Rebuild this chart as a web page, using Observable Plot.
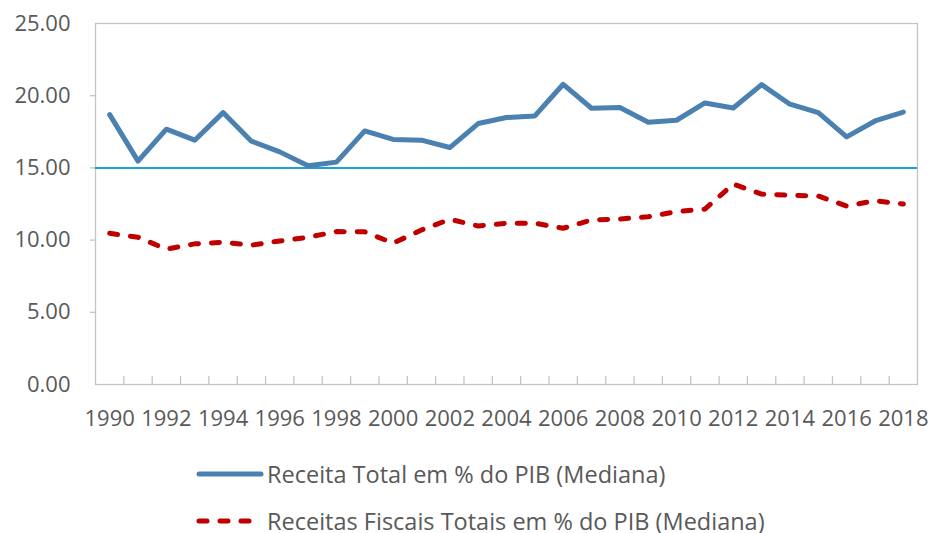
<!DOCTYPE html>
<html>
<head>
<meta charset="utf-8">
<script src="https://cdn.jsdelivr.net/npm/d3@7"></script>
<script src="https://cdn.jsdelivr.net/npm/@observablehq/plot@0.6"></script>
<style>
  html, body { margin: 0; padding: 0; background: #fff; }
  #chart { width: 932px; }
  .legend { font-family: "Open Sans", sans-serif; font-size: 23.5px; color: #595959; padding-left: 196px; padding-top: 5px; }
  .item { display: flex; align-items: center; height: 47px; }
  .item svg { margin-right: 3px; }
</style>
</head>
<body>
<div id="chart"></div>
<script>
const years = [1990,1991,1992,1993,1994,1995,1996,1997,1998,1999,2000,2001,2002,2003,2004,2005,2006,2007,2008,2009,2010,2011,2012,2013,2014,2015,2016,2017,2018];
const receitaTotal = [18.69,15.47,17.68,16.92,18.83,16.85,16.11,15.15,15.40,17.56,16.97,16.92,16.41,18.07,18.49,18.60,20.79,19.13,19.18,18.16,18.30,19.50,19.15,20.77,19.41,18.83,17.15,18.25,18.87];
const receitasFiscais = [10.47,10.20,9.37,9.74,9.85,9.65,9.94,10.20,10.59,10.57,9.79,10.70,11.44,10.98,11.17,11.17,10.82,11.40,11.46,11.62,11.97,12.15,13.88,13.19,13.10,13.05,12.36,12.73,12.50];
const xTickLabels = [1990,1992,1994,1996,1998,2000,2002,2004,2006,2008,2010,2012,2014,2016,2018];
const yTicks = [0,5,10,15,20,25];
const referenceLine = [15];
const seriesNames = ["Receita Total em % do PIB (Mediana)", "Receitas Fiscais Totais em % do PIB (Mediana)"];

const totalData = years.map((y, i) => ({year: y, value: receitaTotal[i]}));
const fiscalData = years.map((y, i) => ({year: y, value: receitasFiscais[i]}));
const boundaries = years.slice(1).map(y => y - 0.5);

const plot = Plot.plot({
  width: 932,
  height: 445,
  marginLeft: 95,
  marginRight: 15,
  marginTop: 23,
  marginBottom: 61,
  x: {domain: [1989.5, 2018.5], label: null},
  y: {domain: [0, 25], label: null},
  style: {fontFamily: "Open Sans, sans-serif", fontSize: "22px", color: "#595959", background: "#fff", overflow: "visible"},
  marks: [
    Plot.frame({stroke: "#c4c4c4", strokeWidth: 1.3}),
    Plot.ruleX(boundaries, {x: d => d, y1: 0, y2: 0.55, stroke: "#c4c4c4", strokeWidth: 1.3}),
    Plot.axisX({ticks: xTickLabels, tickSize: 0, tickPadding: 26, tickFormat: d => String(d), fill: "#595959", fontSize: 22, label: null}),
    Plot.axisY({ticks: yTicks, tickSize: 0, tickPadding: 25, tickFormat: d3.format(".2f"), fill: "#595959", fontSize: 22, label: null}),
    Plot.axisY({ticks: yTicks.filter(t => t > 0 && t < 25), tickSize: 5, text: null, stroke: "#c4c4c4", strokeWidth: 1.3, label: null}),
    Plot.ruleY(referenceLine, {stroke: "#1ba1dc", strokeWidth: 2}),
    Plot.line(totalData, {x: "year", y: "value", stroke: "#4a81b0", strokeWidth: 5, strokeLinejoin: "round", strokeLinecap: "round"}),
    Plot.line(fiscalData, {x: "year", y: "value", stroke: "#c00000", strokeWidth: 5, strokeDasharray: "8,13", strokeLinejoin: "round", strokeLinecap: "round"})
  ]
});
document.getElementById("chart").appendChild(plot);

const legend = document.createElement("div");
legend.className = "legend";
const styles = [
  {stroke: "#4a81b0", dash: null},
  {stroke: "#c00000", dash: "8,13"}
];
seriesNames.forEach((name, i) => {
  const item = document.createElement("div");
  item.className = "item";
  const s = styles[i];
  item.innerHTML = `<svg width="68" height="10"><line x1="3" y1="5" x2="65" y2="5" stroke="${s.stroke}" stroke-width="5" stroke-linecap="round" ${s.dash ? `stroke-dasharray="${s.dash}"` : ""}/></svg><span>${name}</span>`;
  legend.appendChild(item);
});
document.getElementById("chart").appendChild(legend);
</script>
</body>
</html>
